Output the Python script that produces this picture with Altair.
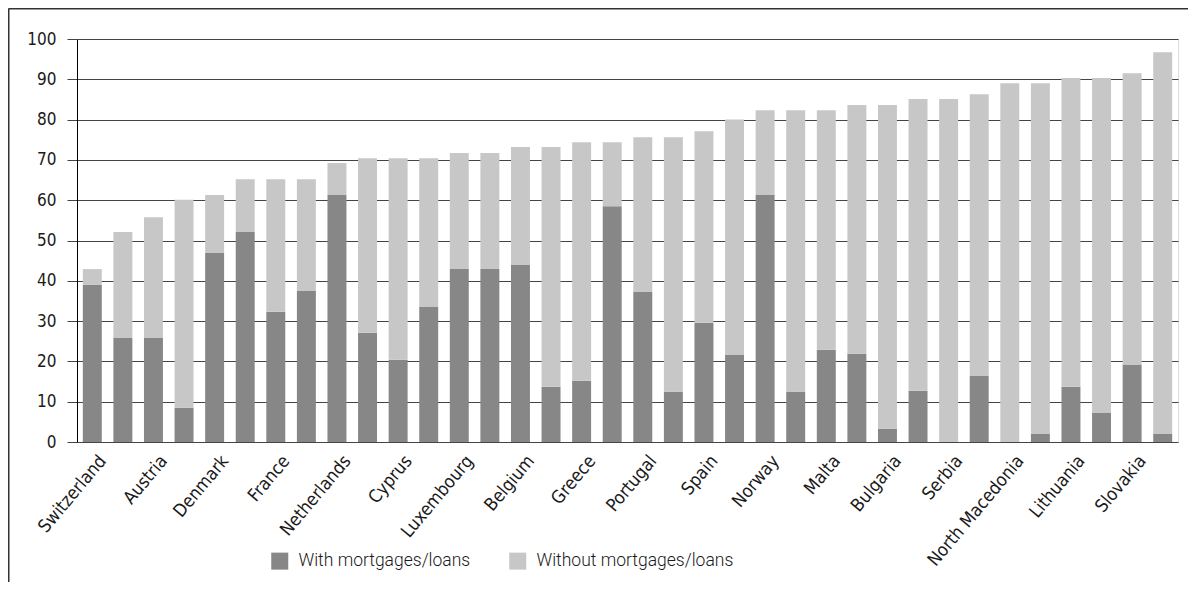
import json
import altair as alt
import pandas as pd

# Every other bar carries a label in the source chart
label_names = [
    "Switzerland", "Austria", "Denmark", "France", "Netherlands", "Cyprus",
    "Luxembourg", "Belgium", "Greece", "Portugal", "Spain", "Norway",
    "Malta", "Bulgaria", "Serbia", "North Macedonia", "Lithuania", "Slovakia",
]

with_loans = [
    39.0, 25.8, 25.8, 8.5, 46.9, 52.1, 32.3, 37.5, 61.3, 27.1, 20.4, 33.5,
    42.9, 42.9, 43.9, 13.7, 15.2, 58.5, 37.2, 12.5, 29.6, 21.6, 61.3, 12.5,
    22.9, 21.9, 3.3, 12.7, 0.0, 16.4, 0.0, 2.1, 13.7, 7.3, 19.2, 2.1,
]
without_loans = [
    3.9, 26.3, 30.0, 51.6, 14.4, 13.1, 32.9, 27.7, 7.9, 43.3, 50.0, 36.9,
    28.8, 28.8, 29.3, 59.5, 59.2, 15.9, 38.4, 63.1, 47.5, 58.4, 21.0, 69.8,
    59.4, 61.7, 80.3, 72.4, 85.1, 69.9, 89.0, 86.9, 76.6, 83.0, 72.3, 94.6,
]

series_names = ["With mortgages/loans", "Without mortgages/loans"]
series_colors = ["#878787", "#c6c7c6"]

rows = []
for i, (w, wo) in enumerate(zip(with_loans, without_loans)):
    rows.append({"idx": i, "series": series_names[0], "ord": 0, "value": w})
    rows.append({"idx": i, "series": series_names[1], "ord": 1, "value": wo})
df = pd.DataFrame(rows)

label_expr = (
    "datum.value % 2 == 0 ? " + json.dumps(label_names) + "[datum.value / 2] : ''"
)

NARROW = "Liberation Sans Narrow, DejaVu Sans Condensed, sans-serif"

bars = alt.Chart(df).mark_bar().encode(
    x=alt.X(
        "idx:O",
        title=None,
        sort="ascending",
        scale=alt.Scale(paddingInner=0.38, paddingOuter=0.19),
        axis=alt.Axis(
            labelExpr=label_expr,
            labelAngle=-50,
            labelAlign="right",
            labelBaseline="top",
            labelFont=NARROW,
            labelFontSize=18,
            labelColor="#1a1a1a",
            labelOffset=4,
            labelPadding=10,
            labelOverlap=False,
            domain=False,
            ticks=False,
            grid=False,
        ),
    ),
    y=alt.Y(
        "value:Q",
        stack="zero",
        title=None,
        scale=alt.Scale(domain=[0, 100], nice=False),
        axis=alt.Axis(
            values=list(range(0, 101, 10)),
            labelFont=NARROW,
            labelFontSize=17,
            labelColor="#1a1a1a",
            labelPadding=11,
            tickSize=10,
            tickColor="#444444",
            gridColor="#444444",
            gridWidth=1,
            domainColor="#000000",
            domainWidth=1,
        ),
    ),
    color=alt.Color(
        "series:N",
        scale=alt.Scale(domain=series_names, range=series_colors),
        legend=alt.Legend(
            title=None,
            orient="none",
            direction="horizontal",
            legendX=194,
            legendY=513,
            symbolType="square",
            symbolSize=289,
            symbolStrokeWidth=0,
            symbolOpacity=1,
            labelFont="Roboto",
            labelFontWeight=300,
            labelFontSize=17.5,
            labelColor="#1a1a1a",
            labelOffset=10,
            columnPadding=38,
            labelLimit=400,
        ),
    ),
    order=alt.Order("ord:Q", sort="ascending"),
)

frame_df = pd.DataFrame({"k": [0]})
frame_left = alt.Chart(frame_df).mark_rule(color="#333333", strokeWidth=2).encode(
    x=alt.value(-68.5), y=alt.value(-30.5), y2=alt.value(600)
)
frame_top = alt.Chart(frame_df).mark_rule(color="#333333", strokeWidth=2).encode(
    x=alt.value(-68.5), x2=alt.value(1200), y=alt.value(-30.5)
)

chart = (
    alt.layer(bars, frame_left, frame_top)
    .properties(
        width=1101,
        height=403,
        autosize=alt.AutoSizeParams(type="none"),
        padding={"left": 69, "top": 31, "right": 10, "bottom": 140},
    )
    .configure_view(stroke=None)
    .configure(background="white")
)

chart.save("out.html", embed_options={"renderer": "svg", "actions": False})
